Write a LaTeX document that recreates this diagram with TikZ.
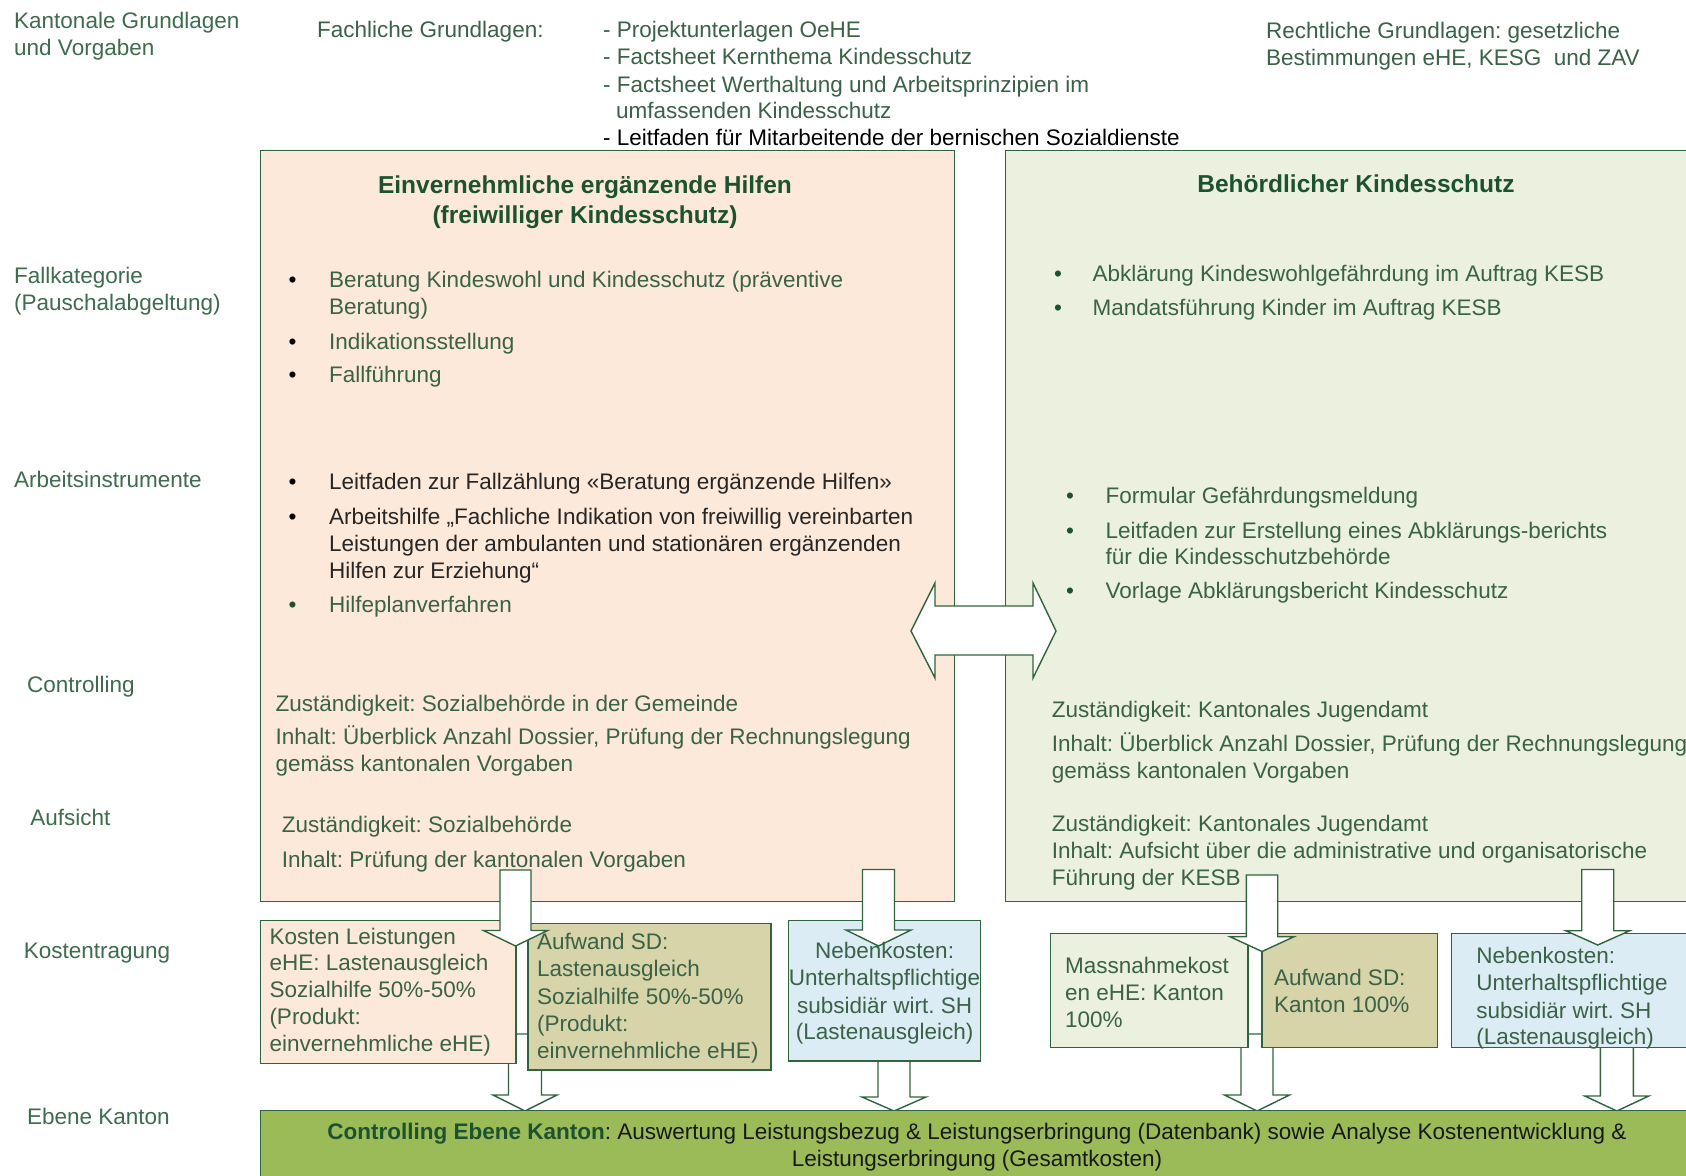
\documentclass[tikz,border=0pt]{standalone}
\usepackage{fontspec}
\setmainfont{Liberation Sans}
\definecolor{bordc}{RGB}{47,100,62}
\definecolor{txtc}{RGB}{58,98,70}
\definecolor{ttlc}{RGB}{28,82,48}
\definecolor{lblc}{RGB}{62,108,76}
\definecolor{salmon}{HTML}{FDE9D9}
\definecolor{lgreen}{HTML}{EBF1DE}
\definecolor{tan}{HTML}{D7D4AA}
\definecolor{lblue}{HTML}{DCECF5}
\definecolor{barg}{HTML}{9BBB59}
\newcommand\fs{\fontsize{22.5}{27}\selectfont\frenchspacing}
\newcommand\fsb{\fontsize{24.5}{29}\selectfont\bfseries\frenchspacing}
\newcommand\bx[6]{\node[box, fill=#6, anchor=north west, minimum width={#4-#2}, minimum height={#5-#3}] (#1) at (#2,#3) {};}
\newcommand\dnarr[6]{\draw[barrow] ({#1-#2},#3) -- ({#1+#2},#3) -- ({#1+#2},#4) -- ({#1+#5},#4) -- (#1,#6) -- ({#1-#5},#4) -- ({#1-#2},#4) -- cycle;}
\tikzset{
  txt/.style={anchor=mid west, inner sep=0pt, font=\fs, text=txtc, yshift=-5.5pt},
  ctxt/.style={anchor=mid, inner sep=0pt, font=\fs, text=txtc, yshift=-5.5pt},
  lbl/.style={anchor=mid west, inner sep=0pt, font=\fs, text=lblc, yshift=-5.5pt},
  ttl/.style={anchor=mid, inner sep=0pt, font=\fsb, text=ttlc, yshift=-5.5pt},
  bul/.style={anchor=mid, inner sep=0pt, font=\fs, text=ttlc, yshift=-5.5pt},
  box/.style={draw=bordc, line width=1.4pt, inner sep=0pt, outer sep=0pt},
  barrow/.style={fill=white, draw=bordc, line width=1.4pt, line join=miter},
}
\begin{document}
\frenchspacing
\begin{tikzpicture}[x=1pt,y=-1pt]
\useasboundingbox (0,0) rectangle (1686,1175);
\clip (0,0) rectangle (1686,1175);
\fill[white] (0,0) rectangle (1686,1175);

% big boxes
\bx{fw}{260.7}{150.5}{954.5}{901.7}{salmon}
\bx{bk}{1005.3}{150.5}{1730}{901.7}{lgreen}

% lower arrows (behind small boxes)
\dnarr{525}{16.5}{1034}{1095}{32}{1111}
\dnarr{894}{16}{1040}{1097}{32}{1111}
\dnarr{1257}{16}{1034}{1095}{32.5}{1111}
\dnarr{1616.8}{16.5}{1040}{1096}{32}{1111}

% small boxes
\bx{k1}{260.7}{920.7}{516}{1063.3}{salmon}
\bx{a1}{528}{923.3}{771}{1070}{tan}
\bx{n1}{788.7}{920.3}{980.5}{1061}{lblue}
\bx{m2}{1050.4}{933.3}{1248}{1047.7}{lgreen}
\bx{a2}{1262}{933.3}{1437.4}{1047.7}{tan}
\bx{n2}{1451.3}{933.3}{1730}{1047.7}{lblue}

% upper arrows
\dnarr{515.5}{15.5}{870}{930.5}{32}{946}
\dnarr{878.5}{16}{869.5}{930}{32.5}{946}
\dnarr{1262}{15.7}{875}{936.7}{32}{951.5}
\dnarr{1597.7}{16}{869.5}{930.7}{32}{945}

% double arrow
\draw[barrow] (911,631) -- (935,583) -- (935,606) -- (1033,606) -- (1033,583) -- (1056,631)
  -- (1033,678) -- (1033,655) -- (935,655) -- (935,678) -- cycle;

% bottom bar
\bx{bar}{260.7}{1110.7}{1730}{1200}{barg}

% left labels
\node[lbl] (l1a) at (14,20.4) {Kantonale Grundlagen};
\node[lbl] (l1b) at (14,47.3) {und Vorgaben};
\node[lbl] (l2a) at (14,275.3) {Fallkategorie};
\node[lbl] (l2b) at (14,302.2) {(Pauschalabgeltung)};
\node[lbl] (l3) at (14,479.6) {Arbeitsinstrumente};
\node[lbl] (l4) at (26.9,683.9) {Controlling};
\node[lbl] (l5) at (30.1,817.2) {Aufsicht};
\node[lbl] (l6) at (23.7,950.6) {Kostentragung};
\node[lbl] (l7) at (26.9,1116.2) {Ebene Kanton};

% top texts
\node[txt] (fg) at (317,29) {Fachliche Grundlagen:};
\node[txt] (fg1) at (603,29) {- Projektunterlagen OeHE};
\node[txt] (fg2) at (603,56) {- Factsheet Kernthema Kindesschutz};
\node[txt] (fg3) at (603,84) {- Factsheet Werthaltung und Arbeitsprinzipien im};
\node[txt] (fg4) at (616,110) {umfassenden Kindesschutz};
\node[txt, text=black] (fg5) at (603,137) {- Leitfaden für Mitarbeitende der bernischen Sozialdienste};
\node[txt] (rg1) at (1266,30) {Rechtliche Grundlagen: gesetzliche};
\node[txt] (rg2) at (1266,57) {Bestimmungen eHE, KESG\ \ und ZAV};

% titles
\node[ttl] (t1a) at (585,185) {Einvernehmliche ergänzende Hilfen};
\node[ttl] (t1b) at (585,215) {(freiwilliger Kindesschutz)};
\node[ttl] (t2) at (1356,184) {Behördlicher Kindesschutz};

% left box lists
\node[bul, text=black] (lb1) at (292.5,279.6) {•};
\node[txt] (lt1a) at (329,279.6) {Beratung Kindeswohl und Kindesschutz (präventive};
\node[txt] (lt1b) at (329,306.5) {Beratung)};
\node[bul, text=black] (lb2) at (292.5,340.9) {•};
\node[txt] (lt2) at (329,340.9) {Indikationsstellung};
\node[bul, text=black] (lb3) at (292.5,374.2) {•};
\node[txt] (lt3) at (329,374.2) {Fallführung};

\node[bul, text=black] (lb4) at (292.5,481.7) {•};
\node[txt, text=black!85] (lt4) at (329,481.7) {Leitfaden zur Fallzählung «Beratung ergänzende Hilfen»};
\node[bul, text=black] (lb5) at (292.5,516.1) {•};
\node[txt, text=black!85] (lt5a) at (329,516.1) {Arbeitshilfe „Fachliche Indikation von freiwillig vereinbarten};
\node[txt, text=black!85] (lt5b) at (329,543) {Leistungen der ambulanten und stationären ergänzenden};
\node[txt, text=black!85] (lt5c) at (329,569.9) {Hilfen zur Erziehung“};
\node[bul] (lb6) at (292.5,604.3) {•};
\node[txt] (lt6) at (329,604.3) {Hilfeplanverfahren};

\node[txt] (lc1) at (275.3,703.2) {Zuständigkeit: Sozialbehörde in der Gemeinde};
\node[txt] (lc2) at (275.3,736.6) {Inhalt: Überblick Anzahl Dossier, Prüfung der Rechnungslegung};
\node[txt] (lc3) at (275.3,763.5) {gemäss kantonalen Vorgaben};
\node[txt] (la1) at (281.7,824.8) {Zuständigkeit: Sozialbehörde};
\node[txt] (la2) at (281.7,859.2) {Inhalt: Prüfung der kantonalen Vorgaben};

% right box lists
\node[bul] (rb1) at (1058,273.1) {•};
\node[txt] (rt1) at (1092.5,273.1) {Abklärung Kindeswohlgefährdung im Auftrag KESB};
\node[bul] (rb2) at (1058,307.5) {•};
\node[txt] (rt2) at (1092.5,307.5) {Mandatsführung Kinder im Auftrag KESB};

\node[bul] (rb3) at (1070,495.7) {•};
\node[txt] (rt3) at (1105.4,495.7) {Formular Gefährdungsmeldung};
\node[bul] (rb4) at (1070,530.1) {•};
\node[txt] (rt4a) at (1105.4,530.1) {Leitfaden zur Erstellung eines Abklärungs-berichts};
\node[txt] (rt4b) at (1105.4,555.9) {für die Kindesschutzbehörde};
\node[bul] (rb5) at (1070,590.3) {•};
\node[txt] (rt5) at (1105.4,590.3) {Vorlage Abklärungsbericht Kindesschutz};

\node[txt] (rc1) at (1051.6,709.7) {Zuständigkeit: Kantonales Jugendamt};
\node[txt] (rc2) at (1051.6,743) {Inhalt: Überblick Anzahl Dossier, Prüfung der Rechnungslegung};
\node[txt] (rc3) at (1051.6,769.9) {gemäss kantonalen Vorgaben};
\node[txt] (ra1) at (1051.6,823.7) {Zuständigkeit: Kantonales Jugendamt};
\node[txt] (ra2) at (1051.6,850.6) {Inhalt: Aufsicht über die administrative und organisatorische};
\node[txt] (ra3) at (1051.6,877.4) {Führung der KESB};

% small box texts
\node[txt] (k1a) at (269.3,936) {Kosten Leistungen};
\node[txt] (k1b) at (269.3,962.7) {eHE: Lastenausgleich};
\node[txt] (k1c) at (269.3,989.3) {Sozialhilfe 50\%-50\%};
\node[txt] (k1d) at (269.3,1016.7) {(Produkt:};
\node[txt] (k1e) at (269.3,1043.3) {einvernehmliche eHE)};

\node[txt] (a1a) at (537,941.7) {Aufwand SD:};
\node[txt] (a1b) at (537,968.3) {Lastenausgleich};
\node[txt] (a1c) at (537,996) {Sozialhilfe 50\%-50\%};
\node[txt] (a1d) at (537,1023.3) {(Produkt:};
\node[txt] (a1e) at (537,1050) {einvernehmliche eHE)};

\node[ctxt] (n1a) at (884.6,950) {Nebenkosten:};
\node[ctxt] (n1b) at (884.6,977.3) {Unterhaltspflichtige};
\node[ctxt] (n1c) at (884.6,1005) {subsidiär wirt. SH};
\node[ctxt] (n1d) at (884.6,1031.7) {(Lastenausgleich)};

\node[txt] (m2a) at (1064.8,965) {Massnahmekost};
\node[txt] (m2b) at (1064.8,992.3) {en eHE: Kanton};
\node[txt] (m2c) at (1064.8,1019.3) {100\%};

\node[txt] (a2a) at (1274,977.3) {Aufwand SD:};
\node[txt] (a2b) at (1274,1004) {Kanton 100\%};

\node[txt] (n2a) at (1476.1,955.7) {Nebenkosten:};
\node[txt] (n2b) at (1476.1,982.7) {Unterhaltspflichtige};
\node[txt] (n2c) at (1476.1,1010) {subsidiär wirt. SH};
\node[txt] (n2d) at (1476.1,1036) {(Lastenausgleich)};

% bar text
\node[ctxt, text=black!90] (bt1) at (977,1131.2) {{\bfseries\color{ttlc}Controlling Ebene Kanton}: Auswertung Leistungsbezug \& Leistungserbringung (Datenbank) sowie Analyse Kostenentwicklung \&};
\node[ctxt, text=black!90] (bt2) at (977,1158.1) {Leistungserbringung (Gesamtkosten)};
\end{tikzpicture}
\end{document}
